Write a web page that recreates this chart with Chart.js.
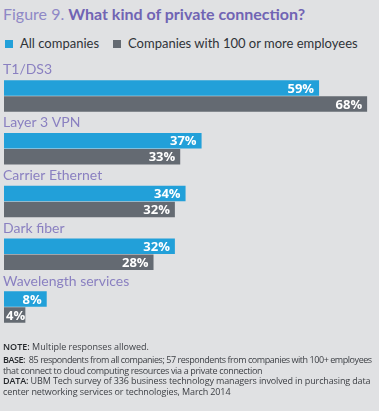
<!DOCTYPE html>
<html>
<head>
<meta charset="utf-8">
<script src="https://cdn.jsdelivr.net/npm/chart.js@4.4.1/dist/chart.umd.min.js"></script>
<style>
    html, body { margin: 0; padding: 0; }
    body { width: 379px; height: 411px; background: #e0e1e3; position: relative; overflow: hidden; font-family: Lato, "Open Sans", sans-serif; }
    #chartBox { position: absolute; left: 0; top: 0; width: 379px; height: 411px; }
    .title { position: absolute; left: 3px; top: 4px; font-size: 16px; color: #8f88c6; white-space: nowrap; }
    .title b { color: #7064b4; }
    .legend { position: absolute; left: 5px; top: 35px; font-size: 13px; color: #2f3338; white-space: nowrap; }
    .legend span.item { display: inline-block; margin-right: 14px; }
    .legend i { display: inline-block; width: 8px; height: 8px; margin-right: 7px; vertical-align: 0px; }
    .notes { position: absolute; left: 3px; top: 341.8px; font-size: 9px; line-height: 10.5px; color: #3c3f44; font-family: "Open Sans", sans-serif; white-space: nowrap; }
    .notes b { color: #25282c; font-weight: 600; }
    .notes p { margin: 0 0 3px 0; }
    .notes .l1 { letter-spacing: -0.45px; }
    .notes .l2 { letter-spacing: -0.34px; }
    .notes .l3 { letter-spacing: -0.13px; }
    .notes .l4 { letter-spacing: -0.11px; }
</style>
</head>
<body>
<div class="title">Figure 9. <b>What kind of private connection?</b></div>
<div class="legend" id="legend"></div>
<div id="chartBox"><canvas id="chart"></canvas></div>
<div class="notes">
    <p><b>NOTE:</b> Multiple responses allowed.</p>
    <p><span class="l1"><b>BASE:</b>&nbsp; 85 respondents from all companies; 57 respondents from companies with 100+ employees</span><br><span class="l2">that connect to cloud computing resources via a private connection</span><br><span class="l3"><b>DATA:</b> UBM Tech survey of 336 business technology managers involved in purchasing data</span><br><span class="l4">center networking services or technologies, March 2014</span></p>
</div>
<script>
    const categories = ["T1/DS3", "Layer 3 VPN", "Carrier Ethernet", "Dark fiber", "Wavelength services"];
    const allCompanies = [59, 37, 34, 32, 8];
    const bigCompanies = [68, 33, 32, 28, 4];
    const seriesNames = ["All companies", "Companies with 100 or more employees"];
    const seriesColors = ["#22a0d9", "#646a72"];

    // Legend as html
    const legend = document.getElementById("legend");
    seriesNames.forEach((name, i) => {
        const span = document.createElement("span");
        span.className = "item";
        span.innerHTML = `<i style="background:${seriesColors[i]}"></i>${name}`;
        legend.appendChild(span);
    });

    // Category label above each pair of bars
    const categoryLabels = {
        id: "categoryLabels",
        afterDraw(chart) {
            const ctx = chart.ctx;
            const y = chart.scales.y;
            ctx.save();
            ctx.font = "14px Lato";
            ctx.fillStyle = "#8a80c1";
            ctx.textAlign = "left";
            ctx.textBaseline = "middle";
            categories.forEach((c, i) => {
                ctx.fillText(c, 3, y.getPixelForValue(i) - 26);
            });
            ctx.restore();
        }
    };

    // Value labels inside bar ends
    const valueLabels = {
        id: "valueLabels",
        afterDatasetsDraw(chart) {
            const ctx = chart.ctx;
            ctx.save();
            ctx.font = "bold 13px 'Open Sans'";
            ctx.fillStyle = "#ffffff";
            ctx.textBaseline = "middle";
            chart.data.datasets.forEach((ds, di) => {
                chart.getDatasetMeta(di).data.forEach((bar, i) => {
                    const txt = ds.data[i] + "%";
                    const w = ctx.measureText(txt).width;
                    let x = bar.x - 5 - w;
                    if (x < bar.base + 2) x = bar.base + 2;
                    ctx.textAlign = "left";
                    ctx.fillText(txt, x, bar.y + 1);
                });
            });
            ctx.restore();
        }
    };

    new Chart(document.getElementById("chart"), {
        type: "bar",
        data: {
            labels: categories,
            datasets: [
                { label: seriesNames[0], data: allCompanies, backgroundColor: seriesColors[0] },
                { label: seriesNames[1], data: bigCompanies, backgroundColor: seriesColors[1] }
            ]
        },
        options: {
            indexAxis: "y",
            responsive: true,
            maintainAspectRatio: false,
            animation: false,
            categoryPercentage: 0.61,
            barPercentage: 0.96,
            layout: { padding: { left: 4, right: 1.2, top: 69.6, bottom: 77.6 } },
            scales: {
                x: { display: false, min: 0, max: 70 },
                y: { display: false, offset: true }
            },
            plugins: {
                legend: { display: false },
                tooltip: { enabled: false }
            }
        },
        plugins: [categoryLabels, valueLabels]
    });
</script>
</body>
</html>
